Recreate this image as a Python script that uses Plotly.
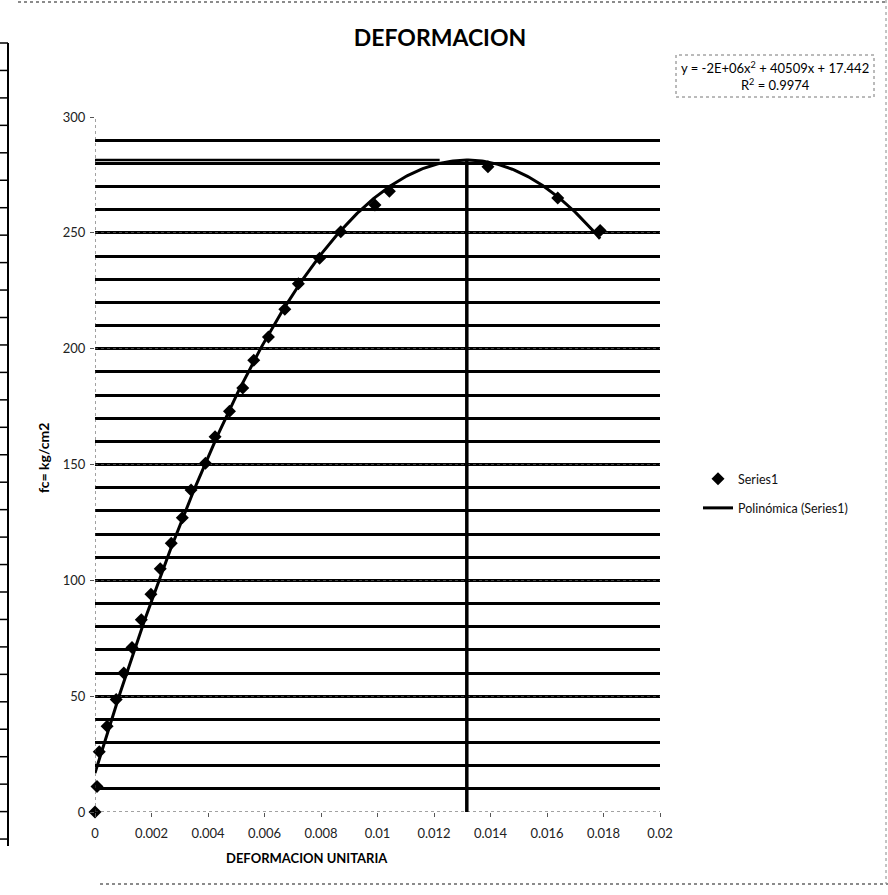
import numpy as np
import plotly.graph_objects as go

# Measured stress-strain pairs (unit strain vs f'c in kg/cm2)
strain = [0.0, 0.00007, 0.00015, 0.00043, 0.00075, 0.00102, 0.00131, 0.00164,
          0.00198, 0.00231, 0.0027, 0.00309, 0.0034, 0.00391, 0.00425, 0.00476,
          0.00523, 0.00562, 0.00614, 0.00672, 0.0072, 0.00795, 0.0087, 0.00991,
          0.01042, 0.01391, 0.01638, 0.01788]
stress = [0, 11, 26, 37, 48.6, 60, 71, 83, 94, 105, 116, 127, 139, 150.5, 162,
          173, 183, 195, 205, 217, 228, 239, 250.5, 262, 268, 278.5, 265, 251]

x_ticks = [0, 0.002, 0.004, 0.006, 0.008, 0.01, 0.012, 0.014, 0.016, 0.018, 0.02]
x_tick_labels = ["0", "0.002", "0.004", "0.006", "0.008", "0.01", "0.012",
                 "0.014", "0.016", "0.018", "0.02"]
y_ticks = [0, 50, 100, 150, 200, 250, 300]
y_tick_labels = ["0", "50", "100", "150", "200", "250", "300"]

eq_text = "y = -2E+06x<sup>2</sup> + 40509x + 17.442<br>R<sup>2</sup> = 0.9974"
peak_line_end = 0.0122  # horizontal guide stops short of the vertex

# Second-order polynomial trendline, fitted the way the spreadsheet does it
coef = np.polyfit(strain, stress, 2)
xs = np.linspace(0, max(strain), 300)
ys = np.polyval(coef, xs)
x_peak = -coef[1] / (2 * coef[0])
y_peak = float(np.polyval(coef, x_peak))

W, H = 888, 895
L, R, T, B = 95, 228, 117, 83
pw, ph = W - L - R, H - T - B


def fx(px):
    return (px - L) / pw


def fy(py):
    return (H - B - py) / ph


FONT = "Lato, 'Open Sans', sans-serif"

fig = go.Figure()
fig.add_trace(go.Scatter(
    x=strain, y=stress, mode="markers", name="Series1", legendgroup="a",
    marker=dict(symbol="diamond", size=10, color="black"),
    cliponaxis=False,
))
fig.add_trace(go.Scatter(
    x=xs, y=ys, mode="lines", name="Polinómica (Series1)", legendgroup="b",
    line=dict(color="black", width=3),
    cliponaxis=False,
))

shapes = []
# dotted axis lines
shapes.append(dict(type="line", xref="x", yref="y", x0=0, x1=0, y0=0, y1=300,
                   line=dict(color="#444", width=1, dash="dot")))
shapes.append(dict(type="line", xref="x", yref="y", x0=0, x1=0.02, y0=0, y1=0,
                   line=dict(color="#444", width=1, dash="dot")))
# peak guides
shapes.append(dict(type="line", xref="x", yref="y", x0=0, x1=peak_line_end,
                   y0=y_peak, y1=y_peak, line=dict(color="black", width=2.5)))
shapes.append(dict(type="line", xref="x", yref="y", x0=x_peak, x1=x_peak,
                   y0=0, y1=y_peak, line=dict(color="black", width=3.5)))
# equation box
shapes.append(dict(type="rect", xref="paper", yref="paper",
                   x0=fx(676), x1=fx(874), y0=fy(97), y1=fy(55),
                   line=dict(color="#777", width=1, dash="dot")))
# chart frame
shapes.append(dict(type="line", xref="paper", yref="paper",
                   x0=fx(18), x1=fx(888), y0=fy(2), y1=fy(2),
                   line=dict(color="#666", width=1.5, dash="dot")))
shapes.append(dict(type="line", xref="paper", yref="paper",
                   x0=fx(100), x1=fx(888), y0=fy(884), y1=fy(884),
                   line=dict(color="#666", width=1.5, dash="dot")))
shapes.append(dict(type="line", xref="paper", yref="paper",
                   x0=fx(886), x1=fx(886), y0=fy(0), y1=fy(884),
                   line=dict(color="#888", width=1, dash="dot")))
# neighbouring worksheet cell border on the left
shapes.append(dict(type="line", xref="paper", yref="paper",
                   x0=fx(8), x1=fx(8), y0=fy(43), y1=fy(846),
                   line=dict(color="black", width=2)))
row = 43.0
while row <= 846:
    shapes.append(dict(type="line", xref="paper", yref="paper",
                       x0=fx(0), x1=fx(8), y0=fy(row), y1=fy(row),
                       line=dict(color="black", width=1.5)))
    row += 27.45

annotations = [
    dict(text="<b>DEFORMACION UNITARIA</b>", xref="paper", yref="paper",
         x=fx(307), y=fy(858), showarrow=False, xanchor="center", yanchor="middle",
         font=dict(size=13, color="black", family=FONT)),
    dict(text="<b>fc= kg/cm2</b>", xref="paper", yref="paper",
         x=fx(43), y=fy(458), showarrow=False, textangle=-90,
         xanchor="center", yanchor="middle",
         font=dict(size=14, color="black", family=FONT)),
    dict(text=eq_text, xref="paper", yref="paper",
         x=fx(775), y=fy(76), showarrow=False, xanchor="center", yanchor="middle",
         align="center", font=dict(size=13, color="black", family=FONT)),
]

fig.update_layout(
    width=W, height=H,
    margin=dict(l=L, r=R, t=T, b=B),
    paper_bgcolor="white", plot_bgcolor="white",
    font=dict(family=FONT, color="#111", size=12),
    title=dict(text="<b>DEFORMACION</b>", xref="container", yref="container",
               x=440 / W, y=1 - 38 / H, xanchor="center", yanchor="middle",
               font=dict(size=23, color="black", family=FONT)),
    xaxis=dict(range=[0, 0.02], tickvals=x_ticks, ticktext=x_tick_labels,
               showgrid=False, zeroline=False, showline=False,
               ticks="outside", ticklen=4, tickcolor="#555",
               ticklabelstandoff=5, tickfont=dict(size=13, color="#222")),
    yaxis=dict(range=[0, 300], tickvals=y_ticks, ticktext=y_tick_labels,
               showgrid=True, gridcolor="#444", gridwidth=1, griddash="dot",
               zeroline=False, showline=False,
               ticks="outside", ticklen=4, tickcolor="#555",
               ticklabelstandoff=2, tickfont=dict(size=13, color="#222"),
               minor=dict(dtick=10, showgrid=True, gridcolor="black",
                          gridwidth=2.5, griddash="solid", ticks="")),
    showlegend=True,
    legend=dict(xref="container", yref="container", x=698 / W, y=1 - 464 / H,
                xanchor="left", yanchor="top", tracegroupgap=10,
                traceorder="grouped", bgcolor="rgba(0,0,0,0)",
                font=dict(size=12.5, color="#111", family=FONT)),
    shapes=shapes,
    annotations=annotations,
)

fig.write_html("out.html")
